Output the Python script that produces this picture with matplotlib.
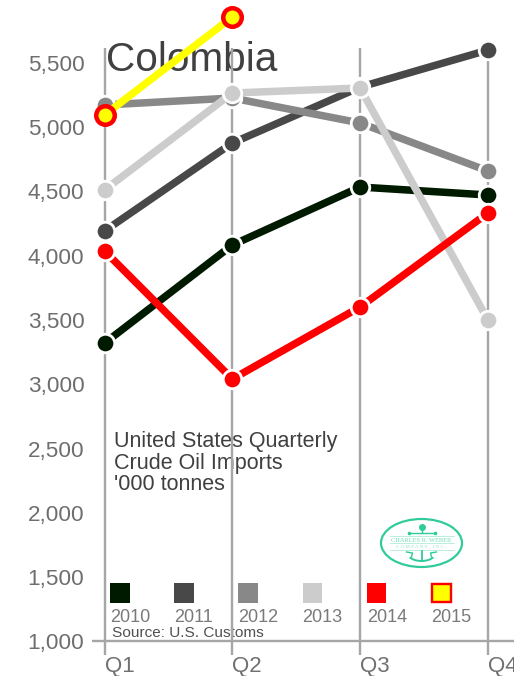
import matplotlib
matplotlib.use("Agg")
import matplotlib.pyplot as plt
from matplotlib.patches import Rectangle, Ellipse, Arc

plt.rcParams['font.family'] = ['Liberation Sans', 'DejaVu Sans']

quarters = ["Q1", "Q2", "Q3", "Q4"]
years = ["2010", "2011", "2012", "2013", "2014", "2015"]
v2010 = [3320, 4083, 4534, 4472]
v2011 = [4192, 4876, 5311, 5599]
v2012 = [5172, 5226, 5032, 4659]
v2013 = [4511, 5265, 5304, 3500]
v2014 = [4037, 3041, 3601, 4332]
v2015 = [5094, 5856]
series = [v2010, v2011, v2012, v2013, v2014, v2015]
colors = ["#001a00", "#484848", "#888888", "#cccccc", "#ff0000", "#ffff00"]
yticks = [1000, 1500, 2000, 2500, 3000, 3500, 4000, 4500, 5000, 5500]

W, H = 514, 676
px = 0.72  # points per pixel at dpi 100
AXIS = "#a6a6a6"
fig = plt.figure(figsize=(W / 100, H / 100), dpi=100)

# pixel-space layer for annotations, underneath the data
ov = fig.add_axes([0, 0, 1, 1], zorder=0)
ov.set_xlim(0, W)
ov.set_ylim(H, 0)
ov.axis("off")

# data axes
x0, yb = 104.5, 641.5
ax = fig.add_axes([x0 / W, (H - yb) / H, (W - x0) / W, yb / H], zorder=1)
ax.patch.set_visible(False)
step = 127.8
ax.set_xlim(0, (W - x0) / step)
ax.set_ylim(1000, 1000 + yb / 0.1286)
for s in ax.spines.values():
    s.set_visible(False)

ax.set_xticks(range(len(quarters)))
ax.set_xticklabels(quarters, ha="left", fontsize=16, color="#707070")
ax.tick_params(axis="x", length=13 * px, width=2.4 * px, color=AXIS, pad=1)
ax.set_yticks(yticks)
ax.set_yticklabels([f"{v:,}" for v in yticks], fontsize=16.2, color="#6e6e6e")
ax.tick_params(axis="y", length=0, pad=14.5)

ax.vlines(range(len(quarters)), 1000, 5616, color=AXIS, lw=2.4 * px, zorder=1, clip_on=False)
ax.hlines(1000, -12.5 / step, (W - x0) / step, color=AXIS, lw=2.4 * px, zorder=1, clip_on=False)

for vals, c, y in zip(series, colors, years):
    xs = list(range(len(vals)))
    if y == "2015":
        ax.plot(xs, vals, color=c, lw=7.5 * px, zorder=3, clip_on=False, solid_capstyle="butt",
                marker="o", ms=18.5 * px, mfc=c, mec="#ff0000", mew=4.5 * px)
    else:
        ax.plot(xs, vals, color=c, lw=7.5 * px, zorder=3, clip_on=False, solid_capstyle="butt",
                marker="o", ms=18.5 * px, mfc=c, mec="white", mew=2.8 * px)

# texts
ov.text(105.5, 60, "Colombia", fontsize=29.2, color="#404040", va="center", ha="left")
for line, yp in zip(["United States Quarterly", "Crude Oil Imports", "'000 tonnes"], [441, 463, 484]):
    ov.text(114, yp, line, fontsize=15.5, color="#404040", va="center", ha="left")
ov.text(112, 633, "Source: U.S. Customs", fontsize=11.1, color="#505050", va="center", ha="left")

# legend
for i, (y, c) in enumerate(zip(years, colors)):
    lx = 110 + 64.2 * i
    if y == "2015":
        ov.add_patch(Rectangle((lx + 1, 583.5), 19, 18, fc=c, ec="#ff0000", lw=2.4 * px))
    else:
        ov.add_patch(Rectangle((lx, 583), 19.5, 19.5, fc=c, ec="none"))
    ov.text(lx, 617, y, fontsize=13, color="#7a7a7a", va="center", ha="left")

# logo
G = "#2fcb9b"
cx, cy = 421.5, 543
ov.add_patch(Ellipse((cx, cy), 81, 48, fc="white", ec=G, lw=2.2 * px))
ov.plot([cx], [527], "o", color=G, ms=4)
ov.plot([cx, cx], [527, 533], color=G, lw=1)
ov.plot([cx - 13, cx + 13], [533, 533], color=G, lw=1)
ov.plot([cx - 13, cx + 13], [533, 533], "o", color=G, ms=1.6)
ov.text(cx, 540, "CHARLES R. WEBER", fontsize=4.6, family="Liberation Serif", color="#6fdcb9", ha="center", va="center")
ov.text(cx, 546.5, "C O M P A N Y ,  I N C .", fontsize=3.6, family="Liberation Serif", color="#8fe4c8", ha="center", va="center")
for yp in [536, 543, 549.5]:
    ov.plot([cx - 32, cx + 32], [yp, yp], color="#9fe8d0", lw=0.5)
ov.plot([cx, cx], [551, 561], color=G, lw=1.3)
ov.add_patch(Arc((cx, 553), 28, 16, theta1=20, theta2=160, ec=G, lw=1.4))
ov.plot([cx - 15, cx - 9, cx - 10], [552, 553, 557], color=G, lw=1)
ov.plot([cx + 15, cx + 9, cx + 10], [552, 553, 557], color=G, lw=1)

fig.savefig("out.png", dpi=100)
